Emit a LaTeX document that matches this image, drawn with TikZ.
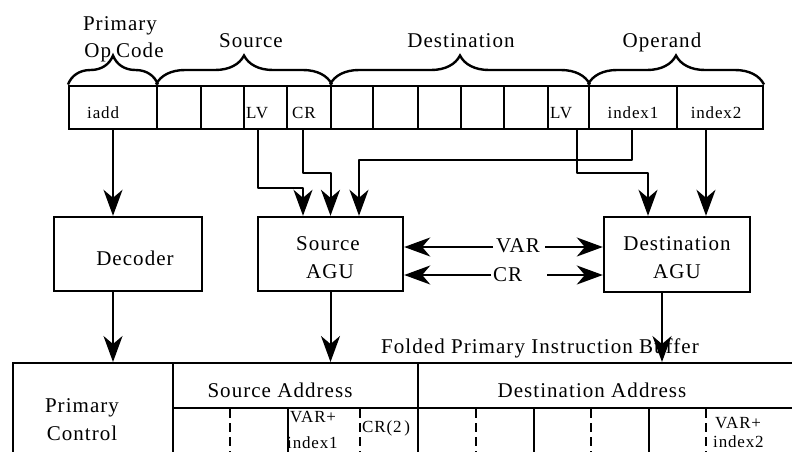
\documentclass[tikz,border=0pt]{standalone}
\usepackage{fontspec}
\setmainfont{Liberation Serif}[LetterSpace=5]
\usetikzlibrary{arrows.meta,decorations.pathreplacing}
\tikzset{
  big/.style={font=\fontsize{21}{25}\selectfont},
  small/.style={font=\fontsize{17}{20}\selectfont},
  txt/.style={inner sep=0pt, anchor=base},
  box/.style={draw, line width=2.4pt, inner sep=0pt},
  cell/.style={draw, line width=2pt, minimum height=43pt, inner sep=0pt},
  conn/.style={line width=2pt, line join=round, -{Stealth[length=26pt,width=19pt,inset=8pt]}},
  brc/.style={line width=2.4pt, decorate, decoration={brace, amplitude=29pt}},
  dashrule/.style={line width=2pt, dash pattern=on 9pt off 5pt},
}
\begin{document}
\begin{tikzpicture}[x=1pt,y=-1pt]
\useasboundingbox (0,0) rectangle (792,451);
\clip (0,0) rectangle (792,451);

% register cells
\node[cell, minimum width=88pt] (iadd) at (113,107) {};
\node[cell, minimum width=44pt] (s1) at (179,107) {};
\node[cell, minimum width=43pt] (s2) at (222.5,107) {};
\node[cell, minimum width=43pt] (slv) at (265.5,107) {};
\node[cell, minimum width=44pt] (scr) at (309,107) {};
\node[cell, minimum width=42pt] (d1) at (352,107) {};
\node[cell, minimum width=45pt] (d2) at (395.5,107) {};
\node[cell, minimum width=43pt] (d3) at (439.5,107) {};
\node[cell, minimum width=43pt] (d4) at (482.5,107) {};
\node[cell, minimum width=44pt] (d5) at (526,107) {};
\node[cell, minimum width=41pt] (dlv) at (568.5,107) {};
\node[cell, minimum width=88pt] (i1) at (633,107) {};
\node[cell, minimum width=86pt] (i2) at (720,107) {};

\node[small, txt, anchor=base west] (tiadd) at (87,118) {iadd};
\node[small, txt, anchor=base west] (tslv) at (246,118) {LV};
\node[small, txt, anchor=base west] (tscr) at (292,118) {CR};
\node[small, txt, anchor=base west] (tdlv) at (550,118) {LV};
\node[small, txt] (ti1) at (633,118) {index1};
\node[small, txt] (ti2) at (716,118) {index2};

% braces and group labels
\draw[brc] (iadd.north west) -- (iadd.north east);
\draw[brc] (s1.north west) -- (scr.north east);
\draw[brc] (d1.north west) -- (dlv.north east);
\draw[brc] (i1.north west) -- (i2.north east);
\node[big, txt] (lprim) at (120,30) {Primary};
\node[big, txt] (lop) at (124,57) {Op\hspace{5pt}Code};
\node[big, txt] (lsrc) at (251,47) {Source};
\node[big, txt] (ldst) at (461,47) {Destination};
\node[big, txt] (lopd) at (662,47) {Operand};

% blocks
\node[box, minimum width=148pt, minimum height=74pt] (dec) at (128,254) {};
\node[big, txt] (tdec) at (135,265) {Decoder};
\node[box, minimum width=145pt, minimum height=74pt] (sagu) at (330.5,254) {};
\node[big, txt] (tsagu1) at (328,250) {Source};
\node[big, txt] (tsagu2) at (330,278) {AGU};
\node[box, minimum width=146pt, minimum height=75pt] (dagu) at (677,254.5) {};
\node[big, txt] (tdagu1) at (677,250) {Destination};
\node[big, txt] (tdagu2) at (677,278) {AGU};

% connectors from register
\coordinate (sa1) at ([xshift=-27.5pt]sagu.north);
\coordinate (sa2) at (sagu.north);
\coordinate (sa3) at ([xshift=28.5pt]sagu.north);
\coordinate (da1) at ([xshift=-29pt]dagu.north);
\coordinate (da2) at ([xshift=29pt]dagu.north);
\draw[conn] (iadd.south) -- (iadd.south |- dec.north);
\draw[conn] ([xshift=-7.5pt]slv.south) -- ++(0,58.5) -| (sa1);
\draw[conn] ([xshift=-6pt]scr.south) -- ++(0,43.5) -| (sa2);
\draw[conn] ([xshift=-1pt]i1.south) -- ++(0,30.5) -| (sa3);
\draw[conn] ([xshift=8.5pt]dlv.south) -- ++(0,43.5) -| (da1);
\draw[conn] (i2.south -| da2) -- (da2);

% VAR / CR
\node[big, txt] (var) at (518,252) {VAR};
\node[big, txt, anchor=base west] (cr) at (493,281) {CR};
\coordinate (vl) at (493,247);
\coordinate (vr) at (545,247);
\coordinate (cl) at (491,275);
\coordinate (crr) at (547,275);
\draw[conn] (vl) -- (vl -| sagu.east);
\draw[conn] (vr) -- (vr -| dagu.west);
\draw[conn] (cl) -- (cl -| sagu.east);
\draw[conn] (crr) -- (crr -| dagu.west);

% buffer table
\node[big, txt] (tfold) at (540,353) {Folded Primary Instruction Buffer};
\node[box, anchor=north west, minimum width=160pt, minimum height=110pt] (pc) at (12,362) {};
\node[box, anchor=north west, minimum width=245pt, minimum height=45pt] (sah) at (172,362) {};
\node[box, anchor=north west, minimum width=420pt, minimum height=45pt] (dah) at (417,362) {};
\node[box, anchor=north west, minimum width=115pt, minimum height=62pt] (f1) at (172,407) {};
\node[box, anchor=north west, minimum width=130pt, minimum height=62pt] (f2) at (287,407) {};
\node[box, anchor=north west, minimum width=116pt, minimum height=62pt] (f3) at (417,407) {};
\node[box, anchor=north west, minimum width=115pt, minimum height=62pt] (f4) at (533,407) {};
\node[box, anchor=north west, minimum width=190pt, minimum height=62pt] (f5) at (648,407) {};
\draw[dashrule] (230,409) -- (230,469);
\draw[dashrule] (360,409) -- (360,469);
\draw[dashrule] (476,409) -- (476,469);
\draw[dashrule] (591,409) -- (591,469);
\draw[dashrule] (706,409) -- (706,469);

\node[big, txt] (tpc1) at (82,412) {Primary};
\node[big, txt] (tpc2) at (82,440) {Control};
\node[big, txt] (tsah) at (280,397) {Source Address};
\node[big, txt] (tdah) at (592,397) {Destination Address};
\node[small, txt, anchor=base west] (tv1) at (290,422) {VAR+};
\node[small, txt, anchor=base west] (ti1b) at (287,448) {index1};
\node[small, txt, anchor=base west] (tcr2) at (362,432) {CR(2\,)};
\node[small, txt, anchor=base west] (tv2) at (715,428) {VAR+};
\node[small, txt, anchor=base west] (ti2b) at (713,447) {index2};

% connectors to buffer
\coordinate (db) at ([xshift=-15pt]dagu.south);
\draw[conn] (dec.south -| iadd.south) -- (iadd.south |- pc.north);
\draw[conn] (sagu.south) -- (sagu.south |- sah.north);
\draw[conn] (db) -- (db |- dah.north);
\end{tikzpicture}
\end{document}
